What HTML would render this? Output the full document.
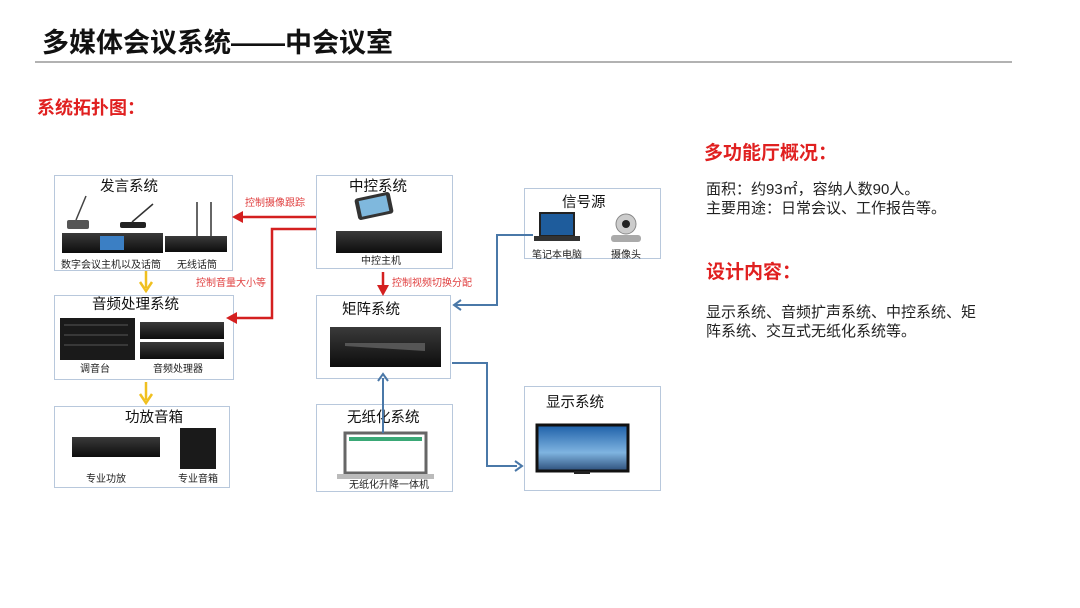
<!DOCTYPE html>
<html><head><meta charset="utf-8"><style>
html,body{margin:0;padding:0;background:#fff;}
body{width:1080px;height:608px;overflow:hidden;position:relative;font-family:"Liberation Sans","Noto Sans CJK SC",sans-serif;}
svg{position:absolute;left:0;top:0;}
text{font-family:"Liberation Sans","Noto Sans CJK SC",sans-serif;}
</style></head><body>
<svg width="1080" height="608" viewBox="0 0 1080 608" xmlns="http://www.w3.org/2000/svg">
<defs>
<linearGradient id="dev" x1="0" y1="0" x2="0" y2="1"><stop offset="0" stop-color="#3a3a3a"/><stop offset="1" stop-color="#0d0d0d"/></linearGradient>
<linearGradient id="sky" x1="0" y1="0" x2="0" y2="1"><stop offset="0" stop-color="#1d5fa8"/><stop offset="0.6" stop-color="#7fb4e0"/><stop offset="1" stop-color="#2d4f7a"/></linearGradient>
</defs>
<!-- title -->
<text x="42" y="52" font-size="27" font-weight="bold" fill="#111">多媒体会议系统——中会议室</text>
<line x1="35" y1="62" x2="1012" y2="62" stroke="#999" stroke-width="1.5"/>
<text x="37" y="114" font-size="18" font-weight="bold" fill="#e02020">系统拓扑图：</text>

<!-- boxes -->
<g fill="#fff" stroke="#b8c8dc" stroke-width="1">
<rect x="54.5" y="175.5" width="178" height="95"/>
<rect x="316.5" y="175.5" width="136" height="93"/>
<rect x="524.5" y="188.5" width="136" height="70"/>
<rect x="54.5" y="295.5" width="179" height="84"/>
<rect x="316.5" y="295.5" width="134" height="83"/>
<rect x="54.5" y="406.5" width="175" height="81"/>
<rect x="316.5" y="404.5" width="136" height="87"/>
<rect x="524.5" y="386.5" width="136" height="104"/>
</g>

<g font-size="14.5" fill="#111">
<text x="100" y="191">发言系统</text>
<text x="349" y="191">中控系统</text>
<text x="562" y="207">信号源</text>
<text x="92" y="309">音频处理系统</text>
<text x="342" y="314">矩阵系统</text>
<text x="125" y="422">功放音箱</text>
<text x="347" y="422">无纸化系统</text>
<text x="546" y="407">显示系统</text>
</g>
<g font-size="10" fill="#222">
<text x="61" y="268">数字会议主机以及话筒</text>
<text x="177" y="268">无线话筒</text>
<text x="361" y="264">中控主机</text>
<text x="532" y="258">笔记本电脑</text>
<text x="611" y="258">摄像头</text>
<text x="80" y="372">调音台</text>
<text x="153" y="372">音频处理器</text>
<text x="86" y="482">专业功放</text>
<text x="178" y="482">专业音箱</text>
<text x="349" y="488">无纸化升降一体机</text>
</g>

<!-- devices 发言 -->
<rect x="62" y="233" width="101" height="20" fill="url(#dev)"/>
<rect x="100" y="236" width="24" height="14" fill="#3b7fc4"/>
<rect x="165" y="236" width="62" height="16" fill="url(#dev)"/>
<line x1="197" y1="236" x2="197" y2="202" stroke="#333" stroke-width="1.5"/>
<line x1="211" y1="236" x2="211" y2="202" stroke="#333" stroke-width="1.5"/>
<rect x="67" y="220" width="22" height="9" rx="2" fill="#555"/>
<line x1="76" y1="220" x2="86" y2="196" stroke="#444" stroke-width="1.5"/>
<rect x="120" y="222" width="26" height="6" rx="2" fill="#222"/>
<line x1="132" y1="222" x2="153" y2="204" stroke="#333" stroke-width="1.5"/>

<!-- 中控 -->
<rect x="356" y="195" width="36" height="22" rx="3" fill="#333" transform="rotate(-12 374 206)"/>
<rect x="360" y="198" width="28" height="16" fill="#7fb8dd" transform="rotate(-12 374 206)"/>
<rect x="336" y="231" width="106" height="22" fill="url(#dev)"/>

<!-- 信号源 -->
<rect x="540" y="213" width="34" height="23" fill="#1e5c9c" stroke="#222" stroke-width="2"/>
<rect x="534" y="236" width="46" height="5" fill="#333"/>
<circle cx="626" cy="224" r="10" fill="#ccc" stroke="#888"/>
<circle cx="626" cy="224" r="4" fill="#222"/>
<rect x="611" y="235" width="30" height="7" rx="3" fill="#aaa"/>

<!-- 音频 -->
<rect x="60" y="318" width="75" height="42" fill="#1a1a1a"/>
<g stroke="#555" stroke-width="1"><line x1="64" y1="325" x2="128" y2="325"/><line x1="64" y1="335" x2="128" y2="335"/><line x1="64" y1="345" x2="128" y2="345"/></g>
<rect x="140" y="322" width="84" height="17" fill="url(#dev)"/>
<rect x="140" y="342" width="84" height="17" fill="url(#dev)"/>

<!-- 矩阵 -->
<rect x="330" y="327" width="111" height="40" fill="url(#dev)"/>
<polygon points="345,343 425,343 425,351 345,346" fill="#555"/>

<!-- 功放 -->
<rect x="72" y="437" width="88" height="20" fill="url(#dev)"/>
<rect x="180" y="428" width="36" height="41" fill="#1a1a1a"/>

<!-- 无纸化 -->
<rect x="345" y="433" width="81" height="40" fill="#fff" stroke="#666" stroke-width="3"/>
<rect x="349" y="437" width="73" height="4" fill="#3aa876"/>
<rect x="337" y="474" width="97" height="5" fill="#bbb"/>

<!-- 显示 -->
<rect x="537" y="425" width="91" height="46" fill="url(#sky)" stroke="#111" stroke-width="3"/>
<rect x="574" y="471" width="16" height="3" fill="#222"/>

<!-- right text -->
<text x="704" y="159" font-size="19" font-weight="bold" fill="#e02020">多功能厅概况：</text>
<g font-size="15" fill="#222">
<text x="706" y="194">面积：约93㎡，容纳人数90人。</text>
<text x="706" y="213">主要用途：日常会议、工作报告等。</text>
<text x="706" y="317">显示系统、音频扩声系统、中控系统、矩</text>
<text x="706" y="336">阵系统、交互式无纸化系统等。</text>
</g>
<text x="706" y="278" font-size="19" font-weight="bold" fill="#e02020">设计内容：</text>

<!-- red arrows -->
<g stroke="#d42020" stroke-width="2.5" fill="none">
<polyline points="316,217 242,217"/>
<polyline points="316,229 272,229 272,318 236,318"/>
<line x1="383" y1="272" x2="383" y2="288"/>
</g>
<g fill="#d42020">
<polygon points="232,217 243,211 243,223"/>
<polygon points="226,318 237,312 237,324"/>
<polygon points="383,296 377,285 389,285"/>
</g>
<g font-size="10" fill="#e04040">
<text x="245" y="206">控制摄像跟踪</text>
<text x="196" y="286">控制音量大小等</text>
<text x="392" y="286">控制视频切换分配</text>
</g>

<!-- blue arrows -->
<g stroke="#4a78a8" stroke-width="2" fill="none">
<polyline points="533,235 497,235 497,305 456,305"/>
<polyline points="452,363 487,363 487,466 517,466"/>
<line x1="383" y1="433" x2="383" y2="378"/>
</g>
<g stroke="#4a78a8" stroke-width="2" fill="none">
<polyline points="461,300 454,305 461,310"/>
<polyline points="515,461 522,466 515,471"/>
<polyline points="378,381 383,374 388,381"/>
</g>

<!-- yellow arrows -->
<g stroke="#f0c020" stroke-width="2.5" fill="none">
<line x1="146" y1="271" x2="146" y2="288"/>
<line x1="146" y1="382" x2="146" y2="400"/>
<polyline points="140,282 146,291 152,282"/>
<polyline points="140,394 146,403 152,394"/>
</g>
</svg>
</body></html>
